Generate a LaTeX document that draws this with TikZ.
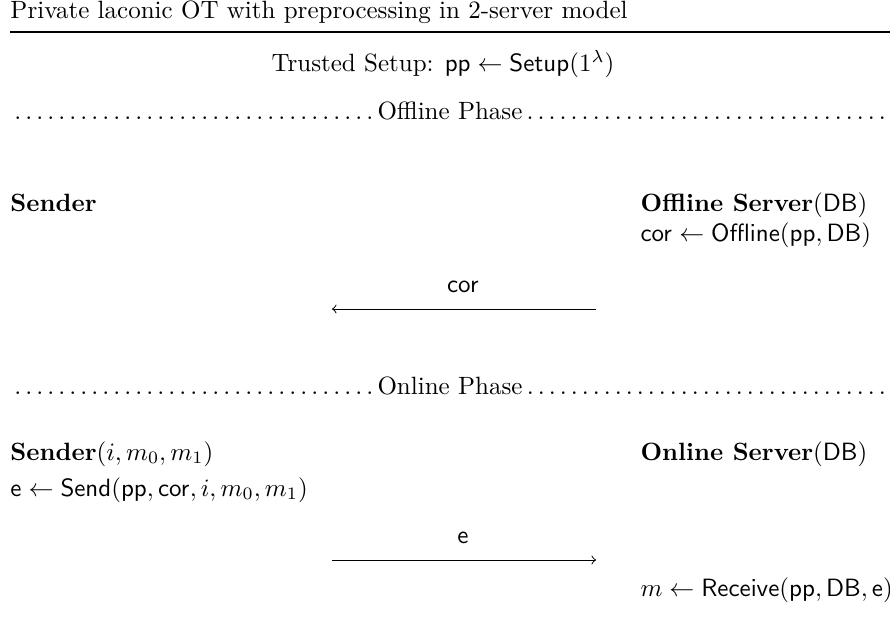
\documentclass[tikz,border=0pt]{standalone}
\usepackage{amsmath}
\begin{document}
\begin{tikzpicture}[x=0.4pt,y=-0.4pt,
  lbl/.style={inner sep=0pt, anchor=base west},
  ctr/.style={inner sep=0pt, anchor=base},
  phase/.style={inner sep=0pt, anchor=base, text width=352pt, align=justify},
  msg/.style={->, line width=0.4pt}]
\useasboundingbox (0,0) rectangle (890,619);
\node[lbl] (title) at (10,19) {Private laconic OT with preprocessing in 2-server model};
\coordinate (rl) at (10,32);
\coordinate (rr) at (890,32);
\draw[line width=0.6pt] (rl) -- (rr);
\node[ctr] (setup) at (443,72) {Trusted Setup: $\mathsf{pp}\leftarrow\mathsf{Setup}(1^\lambda)$};
\node[phase] (off) at (450,119) {\noindent\dotfill Offline Phase\dotfill};
\node[lbl] (s1) at (10,211) {\textbf{Sender}};
\node[lbl] (os) at (640,211) {\textbf{Offline Server}$(\mathsf{DB})$};
\node[lbl] (corc) at (640,241) {$\mathsf{cor}\leftarrow\mathsf{Offline}(\mathsf{pp},\mathsf{DB})$};
\node[ctr] (l1) at (463,292) {$\mathsf{cor}$};
\coordinate (a1s) at (596,309);
\coordinate (a1e) at (332,309);
\draw[msg] (a1s) -- (a1e);
\node[phase] (on) at (450,394) {\noindent\dotfill Online Phase\dotfill};
\node[lbl] (s2) at (10,460) {\textbf{Sender}$(i,m_0,m_1)$};
\node[lbl] (send) at (10,496) {$\mathsf{e}\leftarrow\mathsf{Send}(\mathsf{pp},\mathsf{cor},i,m_0,m_1)$};
\node[lbl] (ons) at (640,460) {\textbf{Online Server}$(\mathsf{DB})$};
\node[ctr] (l2) at (463,543) {$\mathsf{e}$};
\coordinate (a2s) at (332,560);
\coordinate (a2e) at (596,560);
\draw[msg] (a2s) -- (a2e);
\node[lbl] (recv) at (640,596) {$m\leftarrow\mathsf{Receive}(\mathsf{pp},\mathsf{DB},\mathsf{e})$};
\end{tikzpicture}
\end{document}
